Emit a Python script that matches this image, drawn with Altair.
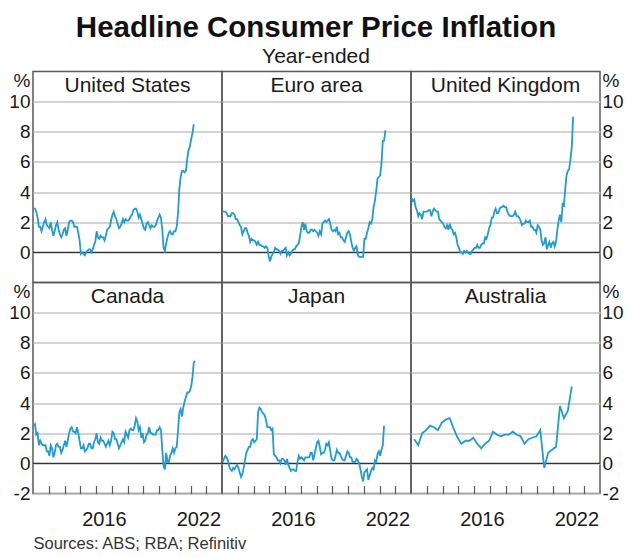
import altair as alt
import pandas as pd

# ---------------- data (year-ended %, monthly from Jan 2012; Australia quarterly from Q1 2012)
START_YEAR = 2012

us = [2.9, 2.9, 2.7, 2.3, 1.7, 1.7, 1.4, 1.7, 2.0, 2.2, 1.8, 1.7,
      1.6, 2.0, 1.5, 1.1, 1.4, 1.8, 2.0, 1.5, 1.2, 1.0, 1.2, 1.5,
      1.6, 1.1, 1.5, 2.0, 2.1, 2.1, 2.0, 1.7, 1.7, 1.7, 1.3, 0.8,
      -0.1, 0.0, -0.1, -0.2, 0.0, 0.1, 0.2, 0.2, 0.0, 0.2, 0.5, 0.7,
      1.4, 1.0, 0.9, 1.1, 1.0, 1.0, 0.8, 1.1, 1.5, 1.6, 1.7, 2.1,
      2.5, 2.7, 2.4, 2.2, 1.9, 1.6, 1.7, 1.9, 2.2, 2.0, 2.2, 2.1,
      2.1, 2.2, 2.4, 2.5, 2.8, 2.9, 2.9, 2.7, 2.3, 2.5, 2.2, 1.9,
      1.6, 1.5, 1.9, 2.0, 1.8, 1.6, 1.8, 1.7, 1.7, 1.8, 2.1, 2.3,
      2.5, 2.3, 1.5, 0.3, 0.1, 0.6, 1.0, 1.3, 1.4, 1.2, 1.2, 1.4,
      1.4, 1.7, 2.6, 4.2, 5.0, 5.4, 5.4, 5.3, 5.4, 6.2, 6.8, 7.0,
      7.5, 7.9, 8.5]

euro = [2.7, 2.7, 2.7, 2.6, 2.4, 2.4, 2.4, 2.6, 2.6, 2.5, 2.2, 2.2,
        2.0, 1.8, 1.7, 1.2, 1.4, 1.6, 1.6, 1.3, 1.1, 0.7, 0.9, 0.8,
        0.8, 0.7, 0.5, 0.7, 0.5, 0.5, 0.4, 0.4, 0.3, 0.4, 0.3, -0.2,
        -0.6, -0.3, -0.1, 0.0, 0.3, 0.2, 0.2, 0.1, -0.1, 0.1, 0.1, 0.2,
        0.3, -0.2, 0.0, -0.2, -0.1, 0.1, 0.2, 0.2, 0.4, 0.5, 0.6, 1.1,
        1.7, 2.0, 1.5, 1.9, 1.4, 1.3, 1.3, 1.5, 1.5, 1.4, 1.5, 1.4,
        1.3, 1.1, 1.4, 1.2, 1.9, 2.0, 2.1, 2.0, 2.1, 2.2, 1.9, 1.5,
        1.4, 1.5, 1.4, 1.7, 1.2, 1.3, 1.0, 1.0, 0.8, 0.7, 1.0, 1.3,
        1.4, 1.2, 0.7, 0.3, 0.1, 0.3, 0.4, -0.2, -0.3, -0.3, -0.3, -0.3,
        0.9, 0.9, 1.3, 1.6, 2.0, 1.9, 2.2, 3.0, 3.4, 4.1, 4.9, 5.0,
        5.1, 5.9, 7.4, 7.4, 8.1]

uk = [3.6, 3.4, 3.5, 3.0, 2.8, 2.4, 2.6, 2.5, 2.2, 2.7, 2.7, 2.7,
      2.7, 2.8, 2.8, 2.4, 2.7, 2.9, 2.8, 2.7, 2.7, 2.2, 2.1, 2.0,
      1.9, 1.7, 1.6, 1.8, 1.5, 1.9, 1.6, 1.5, 1.2, 1.3, 1.0, 0.5,
      0.3, 0.0, 0.0, -0.1, 0.1, 0.0, 0.1, 0.0, -0.1, -0.1, 0.1, 0.2,
      0.3, 0.3, 0.5, 0.3, 0.3, 0.5, 0.6, 0.6, 1.0, 0.9, 1.2, 1.6,
      1.8, 2.3, 2.3, 2.7, 2.9, 2.6, 2.6, 2.9, 3.0, 3.0, 3.1, 3.0,
      3.0, 2.7, 2.5, 2.4, 2.4, 2.4, 2.5, 2.7, 2.4, 2.4, 2.3, 2.1,
      1.8, 1.9, 1.9, 2.1, 2.0, 2.0, 2.1, 1.7, 1.7, 1.5, 1.5, 1.3,
      1.8, 1.7, 1.5, 0.8, 0.5, 0.6, 1.0, 0.2, 0.5, 0.7, 0.3, 0.6,
      0.7, 0.4, 0.7, 1.5, 2.1, 2.5, 2.0, 3.2, 3.1, 4.2, 5.1, 5.4,
      5.5, 6.2, 7.0, 9.0]

canada = [2.5, 2.6, 1.9, 2.0, 1.2, 1.5, 1.3, 1.2, 1.2, 1.2, 0.8, 0.8,
          0.5, 1.2, 1.0, 0.4, 0.7, 1.2, 1.3, 1.1, 1.1, 0.7, 0.9, 1.2,
          1.5, 1.1, 1.5, 2.0, 2.3, 2.4, 2.1, 2.1, 2.0, 2.4, 2.0, 1.5,
          1.0, 1.0, 1.2, 0.8, 0.9, 1.0, 1.3, 1.3, 1.0, 1.0, 1.4, 1.6,
          2.0, 1.4, 1.3, 1.7, 1.5, 1.5, 1.3, 1.1, 1.3, 1.5, 1.2, 1.5,
          2.1, 2.0, 1.6, 1.6, 1.3, 1.0, 1.2, 1.4, 1.6, 1.4, 2.1, 1.9,
          1.7, 2.2, 2.3, 2.2, 2.2, 2.5, 3.0, 2.8, 2.2, 2.4, 1.7, 2.0,
          1.4, 1.5, 1.9, 2.0, 2.4, 2.0, 2.0, 1.9, 1.9, 1.9, 2.2, 2.2,
          2.4, 2.2, 0.9, -0.2, -0.4, 0.7, 0.1, 0.1, 0.5, 0.7, 1.0, 0.7,
          1.0, 1.1, 2.2, 3.4, 3.6, 3.1, 3.7, 4.1, 4.4, 4.7, 4.7, 4.8,
          5.1, 5.7, 6.7, 6.8]

japan = [0.1, 0.3, 0.5, 0.4, 0.2, -0.2, -0.4, -0.5, -0.3, -0.4, -0.2, -0.1,
         -0.3, -0.6, -0.9, -0.7, -0.3, 0.2, 0.7, 0.9, 1.1, 1.1, 1.5, 1.6,
         1.4, 1.5, 1.6, 3.4, 3.7, 3.6, 3.4, 3.3, 3.2, 2.9, 2.4, 2.4,
         2.4, 2.2, 2.3, 0.6, 0.5, 0.4, 0.2, 0.2, 0.0, 0.3, 0.3, 0.2,
         -0.1, 0.3, -0.1, -0.3, -0.5, -0.4, -0.4, -0.5, -0.5, 0.1, 0.5, 0.3,
         0.4, 0.3, 0.2, 0.4, 0.4, 0.4, 0.4, 0.7, 0.7, 0.2, 0.6, 1.0,
         1.4, 1.5, 1.1, 0.6, 0.7, 0.7, 0.9, 1.3, 1.2, 1.4, 0.8, 0.3,
         0.2, 0.2, 0.5, 0.9, 0.7, 0.7, 0.5, 0.3, 0.2, 0.2, 0.5, 0.8,
         0.7, 0.4, 0.4, 0.1, 0.1, 0.1, 0.3, 0.2, 0.0, -0.4, -0.9, -1.2,
         -0.6, -0.5, -0.4, -1.1, -0.8, -0.5, -0.3, -0.4, 0.2, 0.1, 0.6, 0.8,
         0.5, 0.9, 1.2, 2.5]

australia = [1.6, 1.2, 2.0, 2.2,
             2.5, 2.4, 2.2, 2.7,
             2.9, 3.0, 2.3, 1.7,
             1.3, 1.5, 1.5, 1.7,
             1.3, 1.0, 1.3, 1.5,
             2.1, 1.9, 1.8, 1.9,
             1.9, 2.1, 1.9, 1.8,
             1.3, 1.6, 1.7, 1.8,
             2.2, -0.3, 0.7, 0.9,
             1.1, 3.8, 3.0, 3.5,
             5.1]

countries = ["United States", "Euro area", "United Kingdom",
             "Canada", "Japan", "Australia"]
series = [us, euro, uk, canada, japan, australia]
frequency = ["M", "M", "M", "M", "M", "Q"]

x_domain = [2012, 2024]
y_domain = [-2, 12]
year_ticks = list(range(2013, 2024))
labelled_years = [2016, 2022]
top_row_values = [0, 2, 4, 6, 8, 10]
bottom_row_values = [-2, 0, 2, 4, 6, 8, 10]
source_note = "Sources: ABS; RBA; Refinitiv"


def frame_for(name, values, freq):
    if freq == "M":
        t = [START_YEAR + (i + 0.5) / 12 for i in range(len(values))]
    else:
        t = [START_YEAR + (3 * i + 2.5) / 12 for i in range(len(values))]
    return pd.DataFrame({"country": name, "t": t, "v": values})


# ---------------- styling
FONT = "Liberation Sans"
W, H = 189, 211
LINE = "#1f9bd7"
GRID = "#c4c4c4"
FRAME = "#5a5a5a"
TXT = "#1a1a1a"
FS = 19

xscale = alt.Scale(domain=x_domain, nice=False, zero=False)
yscale = alt.Scale(domain=y_domain, nice=False, zero=False)

x_label_expr = " || ".join(f"datum.value == {y}" for y in labelled_years)
x_label_expr = f"({x_label_expr}) ? '' + datum.value : ''"
y_label_expr = "datum.value < 0 ? '-' + abs(datum.value) : '' + datum.value"


def panel(idx):
    name = countries[idx]
    df = frame_for(name, series[idx], frequency[idx])
    row, col = divmod(idx, 3)
    vals = top_row_values if row == 0 else bottom_row_values

    if row == 1:
        xa = dict(values=year_ticks, offset=-8, tickSize=8, tickColor=FRAME,
                  tickWidth=1.2, domain=False, grid=False,
                  labelExpr=x_label_expr, labelOffset=W / 24, labelPadding=16,
                  labelFontSize=20, labelColor=TXT, labelFlush=False,
                  labelOverlap=False)
        if col == 0:
            xa.update(title=source_note, titleAnchor="start", titleAlign="left",
                      titleX=0, titleY=63, titleBaseline="alphabetic",
                      titleFontSize=16.5, titleFontWeight="normal",
                      titleColor="#333333")
        else:
            xa.update(title=None)
        x_axis = alt.Axis(**xa)
    else:
        x_axis = None

    ya = dict(values=vals, grid=True, gridColor=GRID, gridWidth=1.3,
              ticks=False, domain=False, labelFontSize=FS, labelColor=TXT,
              labelExpr=y_label_expr)
    if col == 0:
        ya.update(orient="left", labelPadding=3, title="%", titleAngle=0,
                  titleX=-3, titleY=9, titleAlign="right",
                  titleBaseline="middle", titleFontSize=FS,
                  titleFontWeight="normal", titleColor=TXT)
    elif col == 2:
        ya.update(orient="right", labelPadding=2, title="%", titleAngle=0,
                  titleX=2, titleY=9, titleAlign="left",
                  titleBaseline="middle", titleFontSize=FS,
                  titleFontWeight="normal", titleColor=TXT)
    else:
        ya.update(labels=False, title=None)
    y_axis = alt.Axis(**ya)

    line = alt.Chart(df).mark_line(color=LINE, strokeWidth=1.8).encode(
        x=alt.X("t:Q", scale=xscale, axis=x_axis),
        y=alt.Y("v:Q", scale=yscale, axis=y_axis),
    )
    zero = alt.Chart(pd.DataFrame({"v": [0]})).mark_rule(
        color="#333333", strokeWidth=1.2).encode(
        y=alt.Y("v:Q", scale=yscale, axis=y_axis))
    label = alt.Chart(pd.DataFrame({"country": [name]})).mark_text(
        fontSize=21, color=TXT, align="center", baseline="alphabetic").encode(
        x=alt.value(W / 2), y=alt.value(20), text="country:N")
    return alt.layer(zero, line, label).properties(width=W, height=H)


chart = alt.concat(*[panel(i) for i in range(6)], columns=3, spacing=0,
                   bounds="flush").properties(
    title=alt.TitleParams("Headline Consumer Price Inflation",
                          subtitle="Year-ended", fontSize=29.5,
                          fontWeight="bold", color="#111111",
                          subtitleFontSize=21, subtitleColor=TXT,
                          subtitlePadding=3, anchor="middle", offset=2.5,
                          font=FONT, subtitleFont=FONT),
    padding={"left": 0, "top": 4.5, "right": 0, "bottom": 0},
).configure(font=FONT).configure_view(
    stroke=FRAME, strokeWidth=1.5
)

chart.save("out.html", embed_options={"renderer": "svg", "actions": False})
